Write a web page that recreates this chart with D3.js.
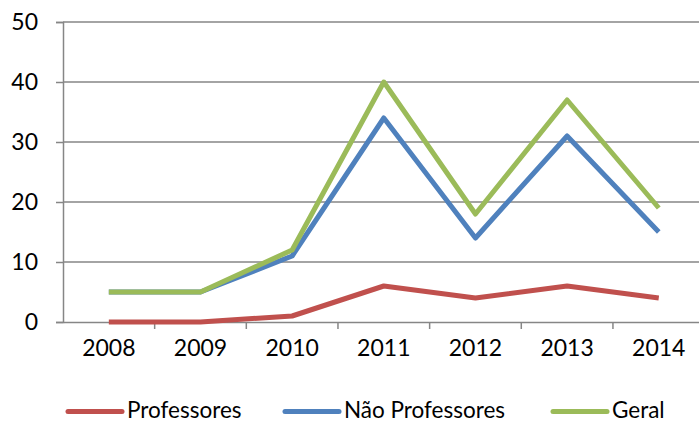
<!DOCTYPE html>
<html><head><meta charset="utf-8">
<script src="https://cdn.jsdelivr.net/npm/d3@7/dist/d3.min.js"></script>
<style>body{margin:0;background:#fff;}svg{display:block;font-family:Lato,"Open Sans",sans-serif;}</style>
</head><body><svg id="c" width="699" height="423"></svg>
<script>
const categories = ["2008","2009","2010","2011","2012","2013","2014"];
const professores = [0,0,1,6,4,6,4];
const naoProfessores = [5,5,11,34,14,31,15];
const geral = [5,5,12,40,18,37,19];
const yTicks = [0,10,20,30,40,50];
const seriesNames = ["Professores","Não Professores","Geral"];
const colors = ["#C0504D","#4F81BD","#9BBB59"];

(function(){
const svg = d3.select("#c");
const mLeft = 63, mTop = 22, mBottom = 322, mRight = 704.6;
const x = d3.scaleBand().domain(categories).range([mLeft, mRight]);
const y = d3.scaleLinear().domain([0,50]).range([mBottom, mTop]);

// gridlines
svg.append("g").selectAll("line").data(yTicks.filter(d=>d>0)).join("line")
  .attr("x1", mLeft).attr("x2", mRight).attr("y1", d=>y(d)).attr("y2", d=>y(d))
  .attr("stroke","#868686").attr("stroke-width",1.5);

// y axis
const ya = svg.append("g").attr("transform",`translate(${mLeft},0)`)
  .call(d3.axisLeft(y).tickValues(yTicks).tickSize(7).tickPadding(18));
ya.select(".domain").attr("stroke","#868686").attr("stroke-width",1.5);
ya.selectAll(".tick line").attr("stroke","#868686").attr("stroke-width",1.5);
ya.selectAll("text").attr("font-size",23).attr("fill","#000").attr("font-family","Lato");

// x axis
const xa = svg.append("g").attr("transform",`translate(0,${mBottom})`)
  .call(d3.axisBottom(x).tickSize(0).tickPadding(18));
xa.select(".domain").attr("stroke","#868686").attr("stroke-width",1.5);
xa.selectAll("text").attr("font-size",23).attr("fill","#000").attr("font-family","Lato");
svg.append("g").selectAll("line").data(categories).join("line")
  .attr("x1", (d,i)=>mLeft + (i+1)*x.step()).attr("x2",(d,i)=>mLeft + (i+1)*x.step())
  .attr("y1", mBottom).attr("y2", mBottom+7)
  .attr("stroke","#868686").attr("stroke-width",1.5);

const line = d3.line().x((d,i)=>x(categories[i]) + x.bandwidth()/2).y(d=>y(d));
[professores, naoProfessores, geral].forEach((s,i)=>{
  svg.append("path").datum(s).attr("d", line).attr("fill","none")
    .attr("stroke", colors[i]).attr("stroke-width",5).attr("stroke-linejoin","round");
});

// legend
const legX = [68, 285, 553];
const lg = svg.append("g");
seriesNames.forEach((n,i)=>{
  lg.append("line").attr("x1",legX[i]).attr("x2",legX[i]+54).attr("y1",411.5).attr("y2",411.5)
    .attr("stroke",colors[i]).attr("stroke-width",5).attr("stroke-linecap","round");
  lg.append("text").attr("x",legX[i]+59).attr("y",418).attr("font-size",22.5).attr("font-family","Lato").text(n);
});
})();
</script></body></html>
